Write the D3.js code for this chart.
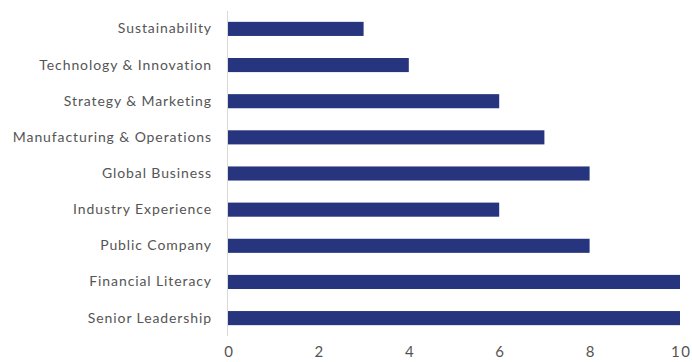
<!DOCTYPE html>
<html>
<head>
<meta charset="utf-8">
<script src="https://cdn.jsdelivr.net/npm/d3@7"></script>
<style>
  html, body { margin: 0; padding: 0; background: #fff; }
  svg text { font-family: "Lato", "Open Sans", sans-serif; fill: #555; }
</style>
</head>
<body>
<svg id="chart" width="692" height="362"></svg>
<script>
// Board skills matrix: number of directors per skill area
const categories = [
  "Sustainability",
  "Technology & Innovation",
  "Strategy & Marketing",
  "Manufacturing & Operations",
  "Global Business",
  "Industry Experience",
  "Public Company",
  "Financial Literacy",
  "Senior Leadership"
];
const values = [3, 4, 6, 7, 8, 6, 8, 10, 10];
const tickValues = [0, 2, 4, 6, 8, 10];

const svg = d3.select("#chart");
const margin = { top: 11, right: 12, bottom: 26, left: 228 };
const width = 692, height = 362;

const x = d3.scaleLinear()
  .domain([0, 10])
  .range([margin.left, 680]);

const y = d3.scaleBand()
  .domain(categories)
  .range([margin.top, height - margin.bottom])
  .paddingInner(0.61)
  .paddingOuter(0.3);

// vertical baseline
svg.append("line")
  .attr("x1", x(0) - 0.5).attr("x2", x(0) - 0.5)
  .attr("y1", margin.top).attr("y2", height - margin.bottom)
  .attr("stroke", "#d9d9d9").attr("stroke-width", 1);

// bars
svg.append("g")
  .selectAll("rect")
  .data(categories)
  .join("rect")
  .attr("x", x(0))
  .attr("y", d => y(d))
  .attr("width", (d, i) => x(values[i]) - x(0))
  .attr("height", y.bandwidth())
  .attr("fill", "#27347e");

// category labels
const yAxis = d3.axisLeft(y).tickSize(0).tickPadding(16);
const gy = svg.append("g")
  .attr("transform", `translate(${x(0)},0)`)
  .call(yAxis);
gy.select(".domain").remove();
gy.selectAll("text")
  .style("font-size", "14px")
  .style("letter-spacing", "0.9px")
  .style("fill", "#555");

// value axis
const xAxis = d3.axisBottom(x).tickValues(tickValues).tickSize(0).tickPadding(8)
  .tickFormat(d3.format("d"));
const gx = svg.append("g")
  .attr("transform", `translate(0,${height - margin.bottom + 2})`)
  .call(xAxis);
gx.select(".domain").remove();
gx.selectAll("text")
  .style("font-size", "15px")
  .style("letter-spacing", "1.5px")
  .attr("dx", "0.75px")
  .style("fill", "#555");
</script>
</body>
</html>
